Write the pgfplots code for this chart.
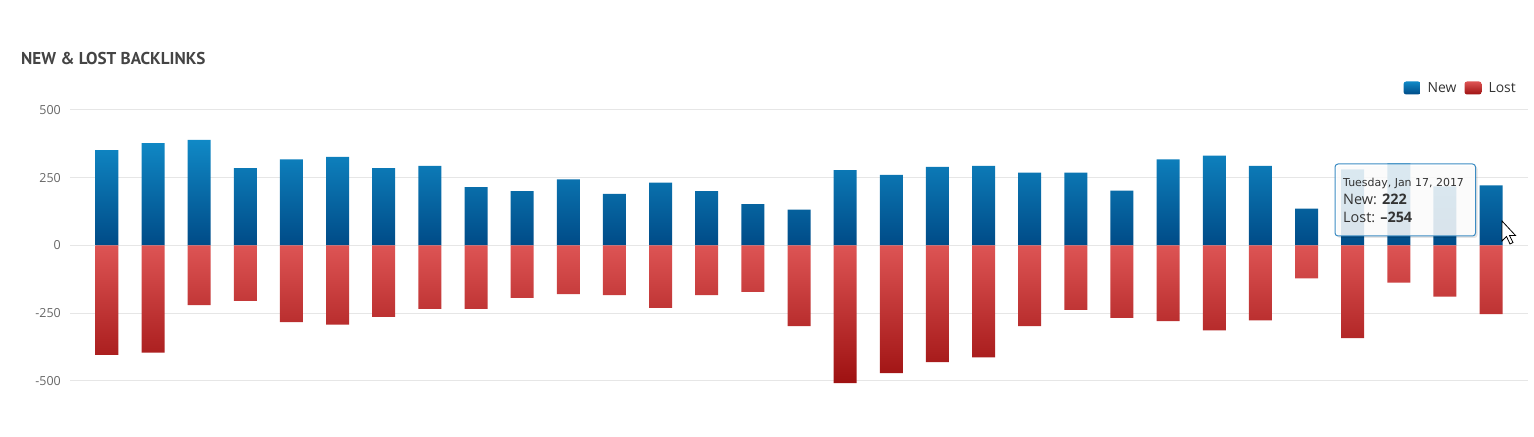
\documentclass[border=0pt]{standalone}
\usepackage{fontspec}
\setmainfont{Open Sans}
\newfontfamily\titlefont{PT Sans}
\newfontfamily\tipfont{DejaVu Sans}
\usepackage{pgfplots}
\usepackage{pgfplotstable}
\pgfplotsset{compat=1.18}

\definecolor{newtop}{HTML}{1089C6}
\definecolor{newbot}{HTML}{004B87}
\definecolor{losttop}{HTML}{DD5454}
\definecolor{lostbot}{HTML}{9E1111}
\definecolor{gridgray}{HTML}{E6E6E6}
\definecolor{tickgray}{HTML}{666666}
\definecolor{titlegray}{HTML}{444444}
\definecolor{legendgray}{HTML}{333333}
\definecolor{tipblue}{HTML}{3C8CC3}

\pgfplotstableread{
x new lost
0 352 -405
1 378 -396
2 390 -221
3 285 -205
4 318 -284
5 327 -293
6 285 -264
7 294 -235
8 215 -235
9 200 -194
10 244 -180
11 190 -184
12 232 -231
13 200 -184
14 152 -172
15 132 -298
16 278 -509
17 260 -472
18 290 -431
19 294 -414
20 269 -298
21 269 -238
22 202 -268
23 318 -280
24 331 -314
25 294 -277
26 136 -122
27 281 -343
28 303 -138
29 218 -189
30 222 -254
}\datatable

\begin{document}
\begin{tikzpicture}
\path[use as bounding box] (0bp,0bp) rectangle (1534bp,437bp);
\node[anchor=base west, inner sep=0pt, text=titlegray,
      font=\titlefont\bfseries\fontsize{17.2}{20}\selectfont] at (21bp,372.7bp) {NEW \& LOST BACKLINKS};
\begin{axis}[
  at={(70bp,56.3bp)}, anchor=south west,
  scale only axis, width=1458bp, height=270.7bp,
  xmin=-0.8, xmax=30.8, ymin=-500, ymax=500,
  enlarge x limits=false, enlarge y limits=false,
  xtick=\empty,
  ytick={-500,-250,0,250,500},
  axis line style={draw=none},
  tick style={draw=none},
  major tick length=0pt,
  ymajorgrids,
  grid style={draw=gridgray, line width=1bp},
  /pgf/number format/assume math mode=true,
  yticklabel style={font=\fontsize{12.5}{14}\selectfont, text=tickgray, anchor=east, inner sep=0pt, xshift=-9bp},
  clip=false,
  legend columns=2,
  legend style={draw=none, fill=none, at={(axis description cs:0.9931,1.0813)}, anchor=east,
    inner sep=0pt, font=\fontsize{14}{16}\selectfont, text=legendgray,
    /tikz/every odd column/.append style={column sep=5bp},
    /tikz/every even column/.append style={column sep=6bp}},
  legend image code/.code={\path[#1, draw=none, rounded corners=2.5bp] (0bp,-6.5bp) rectangle (17bp,6.5bp);},
]
\addplot[ybar, bar width=23bp, bar shift=0pt, draw=none, top color=newtop, bottom color=newbot]
  table[x=x, y=new]{\datatable};
\addlegendentry{New}
\addplot[ybar, bar width=23bp, bar shift=0pt, draw=none, top color=losttop, bottom color=lostbot]
  table[x=x, y=lost]{\datatable};
\addlegendentry{Lost}
\end{axis}
% tooltip
\fill[black, opacity=0.10, rounded corners=3bp] (1337bp,199bp) rectangle (1477.5bp,271bp);
\draw[draw=tipblue, line width=1bp, fill=white, fill opacity=0.85, rounded corners=3bp] (1335bp,201bp) rectangle (1475.5bp,273bp);
\node[anchor=base west, inner sep=0pt, text=legendgray, font=\tipfont\fontsize{11}{13}\selectfont] at (1343bp,250bp) {Tuesday, Jan 17, 2017};
\node[anchor=base west, inner sep=0pt, text=legendgray, font=\fontsize{14.5}{17}\selectfont] at (1343bp,232bp) {New: \textbf{222}};
\node[anchor=base west, inner sep=0pt, text=legendgray, font=\fontsize{14.5}{17}\selectfont] at (1343bp,214bp) {Lost: \textbf{–254}};
% mouse cursor
\draw[fill=white, draw=black, line width=0.8bp, line join=miter]
  (1502bp,216bp) -- (1502bp,196bp) -- (1506.5bp,200.5bp) -- (1510bp,193bp) -- (1513bp,194.5bp) -- (1509.5bp,201.5bp) -- (1515.5bp,201.5bp) -- cycle;
\end{tikzpicture}
\end{document}
